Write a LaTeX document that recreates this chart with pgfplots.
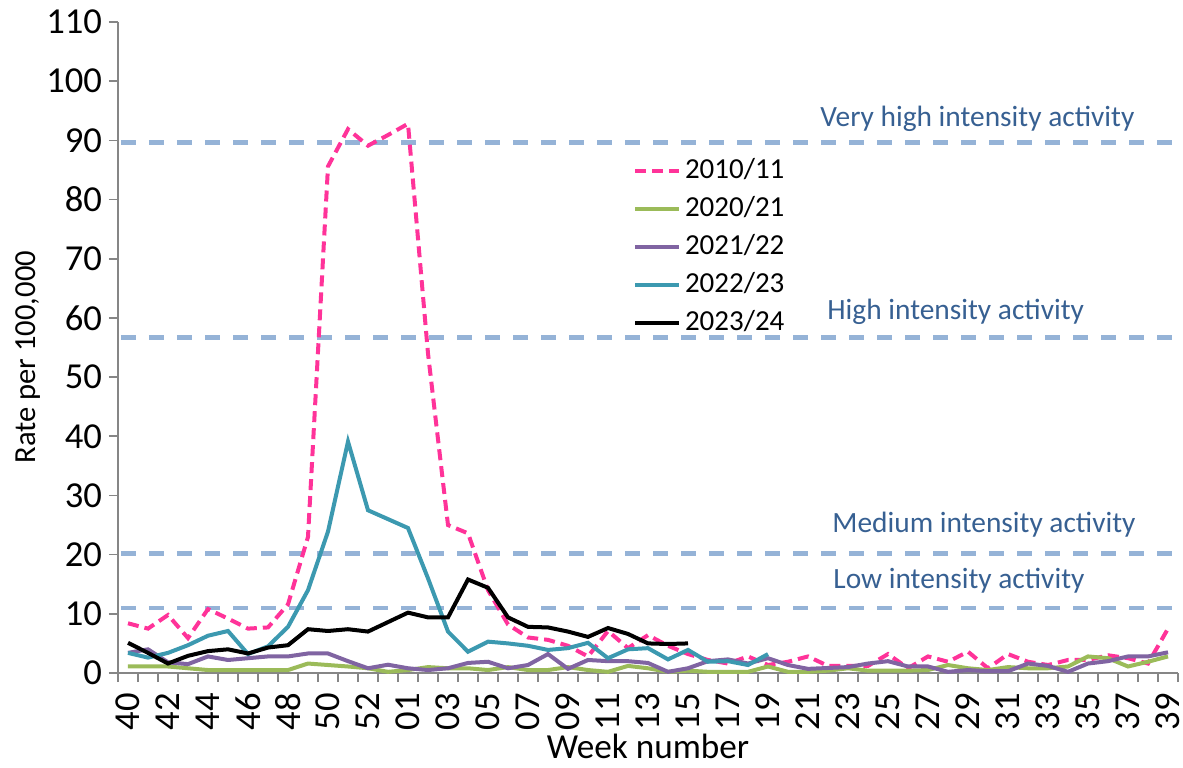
\documentclass[border=0pt]{standalone}
\usepackage{fontspec}
\setmainfont{Carlito}
\usepackage{pgfplots}
\pgfplotsset{compat=1.18}
\definecolor{cpink}{RGB}{255,51,153}
\definecolor{cgreen}{RGB}{155,187,89}
\definecolor{cpurple}{RGB}{128,100,162}
\definecolor{cteal}{RGB}{60,153,176}
\definecolor{thr}{RGB}{149,179,215}
\definecolor{lblue}{RGB}{55,96,146}
\definecolor{axgray}{RGB}{134,134,134}
\begin{document}
\begin{tikzpicture}
\useasboundingbox (-59pt,-47pt) rectangle (532.5pt,336.5pt);
\begin{axis}[
  at={(0,0)}, anchor=south west,
  scale only axis, width=530pt, height=325.5pt,
  xmin=-0.5, xmax=52.5, ymin=0, ymax=110,
  axis x line=bottom, axis y line=left,
  axis line style={draw=axgray, line width=0.8pt, -},
  xtick={0,2,...,52},
  xticklabels={40,42,44,46,48,50,52,01,03,05,07,09,11,13,15,17,19,21,23,25,27,29,31,33,35,37,39},
  minor xtick={-0.5,0.5,...,52.5},
  ytick={0,10,...,110},
  tick align=outside,
  major tick length=4.5pt, minor tick length=4.5pt,
  major x tick style={draw=none},
  every tick/.style={draw=axgray, line width=0.8pt},
  minor x tick style={draw=axgray, line width=0.8pt},
  /pgf/number format/assume math mode=true,
  tick label style={font=\fontsize{18.3pt}{20pt}\selectfont, text=black},
  xticklabel style={rotate=90, anchor=east, inner sep=0.5pt, xshift=-5pt},
  yticklabel style={anchor=east},
  xlabel={Week number},
  ylabel={Rate per 100,000},
  xlabel style={at={(axis description cs:0.5,0)}, anchor=base, inner sep=0pt, yshift=-42.5pt, font=\fontsize{17.6pt}{20pt}\selectfont},
  ylabel style={at={(axis description cs:-0.0849,0.485)}, anchor=center, font=\fontsize{15.3pt}{18pt}\selectfont},
  legend style={at={(axis description cs:0.4802,0.8065)}, anchor=north west, draw=none, fill=none,
    font=\fontsize{14.5pt}{17pt}\selectfont,
    nodes={inner ysep=2.75pt, text height=10.5pt, text depth=3pt, inner xsep=1.8pt},
    row sep=0pt},
  legend cell align=left,
  legend image code/.code={\draw[#1] (0pt,0pt) -- (22pt,0pt);},
  clip=false,
]
% thresholds
\addplot[forget plot, thr, line width=2.2pt, dash pattern=on 7.5pt off 6.5pt] coordinates {(-0.35,89.64) (52.5,89.64)};
\addplot[forget plot, thr, line width=2.2pt, dash pattern=on 7.5pt off 6.5pt] coordinates {(-0.35,56.66) (52.5,56.66)};
\addplot[forget plot, thr, line width=2.2pt, dash pattern=on 7.5pt off 6.5pt] coordinates {(-0.35,20.16) (52.5,20.16)};
\addplot[forget plot, thr, line width=2.2pt, dash pattern=on 7.5pt off 6.5pt] coordinates {(-0.35,11.03) (52.5,11.03)};
% 2010/11
\addplot[cpink, line width=2pt, dash pattern=on 5.5pt off 3pt] coordinates {
(0,8.4)(1,7.5)(2,9.8)(3,5.9)(4,10.8)(5,9.2)(6,7.5)(7,7.7)(8,11.6)(9,23)
(10,85.6)(11,91.9)(12,89.1)(13,90.9)(14,92.8)(15,54)(16,25.0)(17,23.6)(18,14)(19,8.2)
(20,6.0)(21,5.6)(22,4.6)(23,2.8)(24,7.1)(25,4.2)(26,6.4)(27,4.6)(28,3.2)(29,2.2)
(30,1.6)(31,2.8)(32,1.35)(33,1.9)(34,2.8)(35,1.2)(36,1.2)(37,1.2)(38,3.2)(39,0.8)
(40,2.8)(41,1.9)(42,3.6)(43,0.8)(44,3.2)(45,1.9)(46,1.35)(47,2.2)(48,2.2)(49,3.0)
(50,2.5)(51,1.6)(52,7.5)};
\addlegendentry{2010/11}
% 2020/21
\addplot[cgreen, line width=2pt] coordinates {
(0,1.1)(1,1.1)(2,1.1)(3,0.8)(4,0.5)(5,0.5)(6,0.5)(7,0.5)(8,0.5)(9,1.6)
(10,1.35)(11,1.1)(12,0.8)(13,0.2)(14,0.5)(15,1.0)(16,0.8)(17,0.8)(18,0.5)(19,1.0)
(20,0.5)(21,0.5)(22,1.0)(23,0.5)(24,0.2)(25,1.2)(26,0.8)(27,0.2)(28,0.4)(29,0.2)
(30,0.2)(31,0.2)(32,1.1)(33,0.2)(34,0.2)(35,0.4)(36,0.8)(37,0.4)(38,0.4)(39,0.4)
(40,0.5)(41,1.35)(42,0.8)(43,0.5)(44,1.0)(45,0.8)(46,0.8)(47,1.1)(48,2.8)(49,2.5)
(50,1.1)(51,1.9)(52,2.8)};
\addlegendentry{2020/21}
% 2021/22
\addplot[cpurple, line width=2pt] coordinates {
(0,3.4)(1,4.0)(2,1.8)(3,1.5)(4,2.8)(5,2.2)(6,2.5)(7,2.8)(8,2.8)(9,3.3)
(10,3.3)(11,2.0)(12,0.8)(13,1.4)(14,0.8)(15,0.5)(16,0.8)(17,1.7)(18,1.9)(19,0.8)
(20,1.35)(21,3.2)(22,0.7)(23,2.2)(24,2.0)(25,2.0)(26,1.7)(27,0.2)(28,0.8)(29,2.0)
(30,2.3)(31,1.6)(32,2.5)(33,1.35)(34,0.7)(35,0.85)(36,1.0)(37,1.6)(38,2.0)(39,1.1)
(40,1.1)(41,0.2)(42,0.5)(43,0.3)(44,0.3)(45,1.6)(46,1.2)(47,0.2)(48,1.6)(49,2.0)
(50,2.8)(51,2.8)(52,3.5)};
\addlegendentry{2021/22}
% 2022/23
\addplot[cteal, line width=2pt] coordinates {
(0,3.4)(1,2.6)(2,3.4)(3,4.7)(4,6.3)(5,7.1)(6,3.2)(7,4.5)(8,7.8)(9,14.0)
(10,23.9)(11,39.1)(12,27.5)(13,26.0)(14,24.5)(15,16.0)(16,7.0)(17,3.6)(18,5.3)(19,5.0)
(20,4.6)(21,3.9)(22,4.2)(23,5.1)(24,2.5)(25,4.0)(26,4.2)(27,2.3)(28,3.9)(29,1.9)
(30,2.0)(31,1.35)(32,3.2)};
\addlegendentry{2022/23}
% 2023/24
\addplot[black, line width=2pt] coordinates {
(0,5.1)(1,3.4)(2,1.6)(3,2.9)(4,3.7)(5,4.0)(6,3.3)(7,4.3)(8,4.7)(9,7.4)
(10,7.1)(11,7.4)(12,7.0)(13,8.6)(14,10.2)(15,9.4)(16,9.4)(17,15.8)(18,14.4)(19,9.4)
(20,7.8)(21,7.7)(22,7.0)(23,6.1)(24,7.6)(25,6.6)(26,5.0)(27,4.9)(28,5.0)};
\addlegendentry{2023/24}
\node[anchor=base west, text=lblue, font=\fontsize{14.7pt}{17pt}\selectfont, inner sep=0pt] at (axis cs:34.6,92.3) {Very high intensity activity};
\node[anchor=base west, text=lblue, font=\fontsize{14.7pt}{17pt}\selectfont, inner sep=0pt] at (axis cs:34.95,59.8) {High intensity activity};
\node[anchor=base west, text=lblue, font=\fontsize{14.7pt}{17pt}\selectfont, inner sep=0pt] at (axis cs:35.2,23.66) {Medium intensity activity};
\node[anchor=base west, text=lblue, font=\fontsize{14.7pt}{17pt}\selectfont, inner sep=0pt] at (axis cs:35.25,14.36) {Low intensity activity};
\end{axis}
\end{tikzpicture}
\end{document}
